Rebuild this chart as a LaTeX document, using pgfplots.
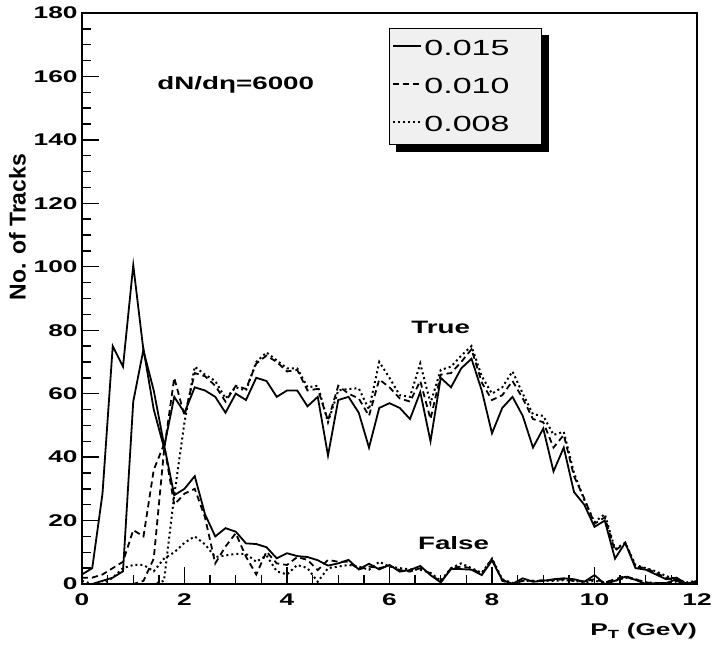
\documentclass[border=0pt]{standalone}
\usepackage{fontspec}
\usepackage{pgfplots}
\usepackage{pgfplotstable}
\pgfplotsset{compat=1.18}
\setmainfont{Liberation Sans}
\newfontfamily\widefont{Liberation Sans}[FakeStretch=1.55]

% Track counts per 0.2 GeV bin: true (t) and false (f) tracks
% for the three search-window sizes 0.015 (s), 0.010 (d) and 0.008 (p)
\pgfplotstableread{
x    st   dt   pt   sf    df   pf
0.0  0    0    0    3     2    1
0.2  0    0    0    5     2    0
0.4  1    0    0    28.5  3    0
0.6  2    0    0    75    5    2
0.8  4    0    0    68.5  7    5
1.0  57.5 0    0    100.5 17   6
1.2  74   1    0    73.5  15   6
1.4  55   8    0    61    36   4
1.6  43   42   1    44    44   8
1.8  59   65   28   28    25   10
2.0  54   53   51   30    28.5 13
2.2  62   66.5 68.5 34    30   15
2.4  61   65.5 66   22    21   12.5
2.6  59   62.5 64   15    6.5  8.5
2.8  54   57.5 58.5 17.6  11.8 9
3.0  60   62.5 62   16.5  16   9.5
3.2  58   61.5 61   12.8  8.6  9.5
3.4  65   69.5 70   12.6  3    7
3.6  64   72   73   11.6  10.2 9
3.8  59   70   70.5 8.1   6.5  4
4.0  61   67   68   9.7   6    3
4.2  61   67.5 68   8.8   8.5  6
4.4  56   61   62   8.5   7.6  5
4.6  59   61.5 62.5 7.5   4.4  0.7
4.8  40.5 51.5 51   5.8   7.6  5
5.0  58   62.5 61   6.5   7    5.5
5.2  59   60   61.5 7.6   7    6
5.4  54   58.5 61.7 4.6   4.6  5.5
5.6  43   53   55   6.4   5.5  4.5
5.8  55.5 64.5 70   4.6   5    7
6.0  57   62   65   6     5.8  5.5
6.2  55.5 58.5 59.5 3.9   4.4  5
6.4  52   57.5 59   4.4   3.9  4.6
6.6  60.5 64   69.5 5.7   5    4.5
6.8  45   52   57   2.8   3.3  3.5
7.0  65   66   67.5 0.5   0.5  1
7.2  62   66.5 68.5 4.7   5    5
7.4  68   70   72   4.7   5.5  6.5
7.6  71   74   75   4.5   5    5
7.8  61   63.5 65.5 2.8   3    3.5
8.0  47.5 58   60   7.4   8    8
8.2  55.5 59.5 62   1.3   1    1.5
8.4  59   64   67   0     0    0.3
8.6  53   58.5 60   1.8   1    1
8.8  43   52   53.5 0.7   1    1
9.0  49   51   53   1     1.2  1
9.2  35.5 43   47   1.5   1.2  1
9.4  43   47   48   1.8   1.5  1.2
9.6  29   34   35   1.5   1    1
9.8  25   27   26.5 0.7   0.8  0.5
10.0 18   19   19.5 2.8   1.5  1
10.2 20   21   22   0     0.5  0.5
10.4 8    10.5 11   1     1.5  1
10.6 13   13   13   2.3   2.5  2
10.8 5    5.5  6    1.3   1.5  1.5
11.0 4.5  5    5    0     0.5  0.5
11.2 3    3.5  4    0.3   0.2  0.3
11.4 1.5  2    2.5  0.3   0.2  0.2
11.6 2    1    1.5  1.5   1    0.8
11.8 0    0.2  0.5  0     0    0
12.0 1    0.5  1    0.5   0.5  0.5
}\tracks

\tikzset{
  solidline/.style={black, line width=1.8bp, solid},
  dashline/.style={black, line width=1.8bp, dash pattern=on 6bp off 4bp},
  dotline/.style={black, line width=2bp, dash pattern=on 2bp off 3bp},
}

\begin{document}
\begin{tikzpicture}
\begin{axis}[
  scale only axis,
  width=615bp, height=571bp,
  xmin=0, xmax=12, ymin=0, ymax=180,
  xtick={0,2,...,12}, ytick={0,20,...,180},
  minor x tick num=3, minor y tick num=3,
  tick align=inside,
  xtick pos=bottom, ytick pos=left,
  major tick length=17bp, minor tick length=9bp,
  axis line style={line width=2bp},
  every tick/.style={black, line width=1.4bp},
  /pgf/number format/assume math mode=true,
  ticklabel style={font=\widefont\bfseries\fontsize{17}{17}\selectfont},
  xticklabel style={yshift=-6bp},
  yticklabel style={xshift=-1bp},
  xlabel={P\textsubscript{T} (GeV)},
  xlabel style={font=\widefont\bfseries\fontsize{17}{17}\selectfont,
    at={([yshift=-39bp]rel axis cs:1,0)}, anchor=north east, inner sep=0pt},
  ylabel={No. of Tracks},
  ylabel style={font=\bfseries\fontsize{23}{23}\selectfont,
    at={([xshift=-56bp]rel axis cs:0,0.625)}, anchor=south, inner sep=0pt},
  legend style={
    name=leg,
    at={(rel axis cs:0.499,0.974)}, anchor=north west,
    draw=black, line width=1.2bp, fill=black!6,
    font=\widefont\fontsize{22}{24}\selectfont,
    inner xsep=3bp, inner ysep=10bp, row sep=17bp,
  },
  legend cell align=left,
  legend image code/.code={\draw[#1] (0bp,2.5bp) -- (28bp,2.5bp);},
]
% true tracks
\addplot[solidline] table[x=x, y=st] {\tracks};
\addlegendentry{0.015\hspace*{27bp}}
\addplot[dashline] table[x=x, y=dt] {\tracks};
\addlegendentry{0.010\hspace*{27bp}}
\addplot[dotline] table[x=x, y=pt] {\tracks};
\addlegendentry{0.008\hspace*{27bp}\rule[-21bp]{0pt}{1bp}}
% false tracks
\addplot[solidline, forget plot] table[x=x, y=sf] {\tracks};
\addplot[dashline, forget plot] table[x=x, y=df] {\tracks};
\addplot[dotline, forget plot] table[x=x, y=pf] {\tracks};

\node[font=\widefont\bfseries\fontsize{18}{18}\selectfont] at (axis cs:3.0,157.5) {dN/d\char"03B7=6000};
\node[font=\widefont\bfseries\fontsize{18}{18}\selectfont] at (axis cs:7.0,81) {True};
\node[font=\widefont\bfseries\fontsize{18}{18}\selectfont] at (axis cs:7.25,13) {False};

\coordinate (BL) at (rel axis cs:0,0);
\coordinate (TR) at (rel axis cs:1,1);
\end{axis}
% drop shadow along the right and lower edges of the legend box
\fill[black] ([yshift=-7bp]leg.north east) rectangle ([shift={(7bp,-7bp)}]leg.south east);
\fill[black] ([xshift=7bp]leg.south west) rectangle ([shift={(7bp,-7bp)}]leg.south east);
\pgfresetboundingbox
\path ([shift={(-82bp,-68bp)}]BL) rectangle ([shift={(17bp,13bp)}]TR);
\end{tikzpicture}
\end{document}
